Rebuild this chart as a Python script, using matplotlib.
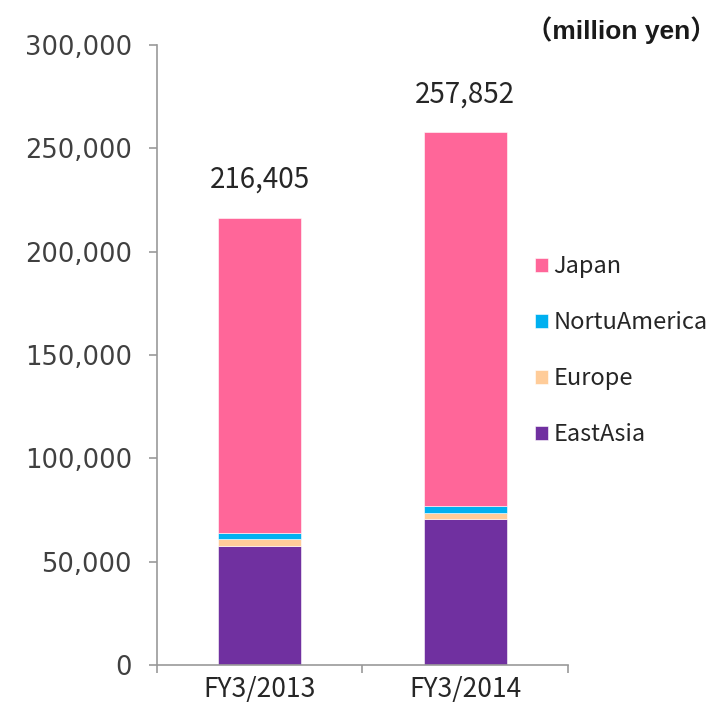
import matplotlib
matplotlib.use("Agg")
import matplotlib.pyplot as plt
from matplotlib.ticker import FuncFormatter

# data
years = ["FY3/2013", "FY3/2014"]
east_asia = [57700, 70700]
europe = [3200, 2700]
north_america = [2800, 3700]
japan = [152705, 180752]
totals = [216405, 257852]

series = [
    ("EastAsia", east_asia, "#7030a0"),
    ("Europe", europe, "#ffcc99"),
    ("NortuAmerica", north_america, "#00b0f0"),
    ("Japan", japan, "#ff6699"),
]

CJK = ["Noto Sans CJK JP", "DejaVu Sans"]
INK = "#404040"
AXIS = "#999999"

fig = plt.figure(figsize=(7.17, 7.10), dpi=100)
ax = fig.add_axes([0.219, 0.0634, 0.573, 0.8732])

x = list(range(len(years)))
bottom = [0] * len(years)
handles = []
for name, vals, color in series:
    b = ax.bar(x, vals, width=0.405, bottom=bottom, color=color,
               edgecolor="white", linewidth=0.4, label=name)
    handles.append(b)
    bottom = [bt + v for bt, v in zip(bottom, vals)]

for xi, t in zip(x, totals):
    ax.text(xi, t + 11000, f"{t:,}", ha="center", va="bottom",
            fontsize=20, color="#262626", family=CJK)

ax.set_xlim(-0.5, 1.5)
ax.set_ylim(0, 300000)
ax.set_yticks(range(0, 300001, 50000))
ax.yaxis.set_major_formatter(FuncFormatter(lambda v, p: f"{int(v):,}"))
ax.set_xticks(x)
ax.set_xticklabels(years, family=CJK, fontsize=19, color="#262626")
ax.set_xticks([-0.5, 0.5, 1.5], minor=True)
ax.tick_params(axis="x", which="major", length=0, pad=8)
ax.tick_params(axis="x", which="minor", length=6, color=AXIS, width=1.2)
ax.tick_params(axis="y", length=6, color=AXIS, width=1.2,
               labelsize=18.5, labelcolor=INK, pad=12)

for s in ["top", "right"]:
    ax.spines[s].set_visible(False)
for s in ["left", "bottom"]:
    ax.spines[s].set_color(AXIS)
    ax.spines[s].set_linewidth(1.2)

leg = ax.legend(handles=handles[::-1], loc="center left",
                bbox_to_anchor=(0.897, 0.507), frameon=False,
                prop={"family": CJK, "size": 17},
                handlelength=0.55, handleheight=0.55, handletextpad=0.22,
                labelspacing=1.4, borderaxespad=0)
for t in leg.get_texts():
    t.set_color("#262626")

fig.text(0.999, 0.958, "（million yen）", ha="right", va="center",
         fontsize=19, fontweight="bold", color="#1a1a1a",
         family=["Liberation Sans", "Noto Sans CJK JP"])

fig.savefig("out.png", dpi=100)
